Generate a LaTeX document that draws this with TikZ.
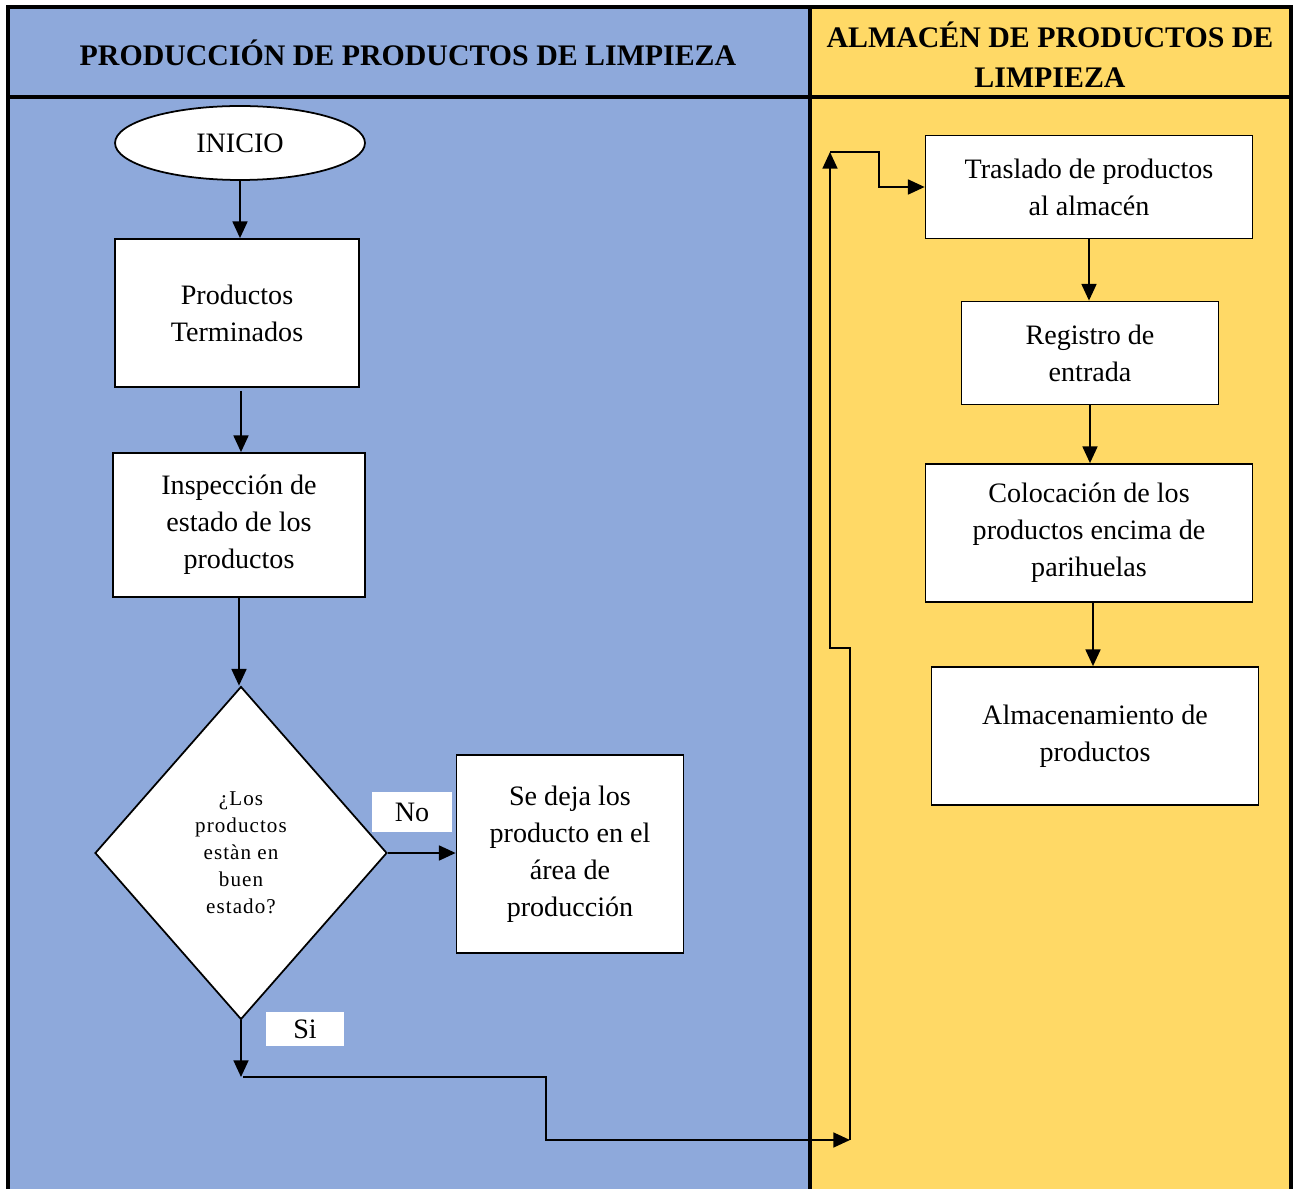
\documentclass[tikz,border=0pt]{standalone}
\usepackage{fontspec}
\setmainfont{Liberation Serif}
\usepackage{xcolor}
\definecolor{laneblue}{RGB}{142,169,219}
\definecolor{laneyellow}{RGB}{255,217,102}
\usetikzlibrary{arrows.meta, shapes.geometric}

\begin{document}
\begin{tikzpicture}[x=0.02cm, y=-0.02cm,
    >={Triangle[length=9.5pt,width=8.5pt]},
    proc/.style={draw, fill=white, line width=1pt, align=center, inner sep=2pt,
        font=\fontsize{16}{21}\selectfont},
    flow/.style={->, line width=1.1pt},
    tag/.style={fill=white, inner sep=0pt, font=\fontsize{16}{20}\selectfont},
    lane/.style={line width=2.8pt},
    header/.style={font=\bfseries\fontsize{17}{22.7}\selectfont, align=center}]

\useasboundingbox (0,0) rectangle (1299,1189);

% Swimlanes
\fill[laneblue] (8,7) rectangle (810,1200);
\fill[laneyellow] (810,7) rectangle (1291,1200);
\draw[lane] (8,1200) -- (8,7) -- (1291,7) -- (1291,1200);
\draw[lane] (8,97) -- (1291,97);
\draw[lane] (810,7) -- (810,1200);

% Lane headers
\node[header] (hprod) at (408,53) {PRODUCCIÓN DE PRODUCTOS DE LIMPIEZA};
\node[header] (halm) at (1050,55) {ALMACÉN DE PRODUCTOS DE\\LIMPIEZA};

% Production lane
\node[draw, ellipse, fill=white, line width=1pt, inner sep=0pt,
    minimum width=5cm, minimum height=1.48cm,
    font=\fontsize{16}{20}\selectfont] (inicio) at (240,143) {INICIO};
\node[proc, minimum width=4.88cm, minimum height=2.96cm] (prod) at (237,313)
    {Productos\\Terminados};
\node[proc, minimum width=5.04cm, minimum height=2.88cm] (insp) at (239,525)
    {Inspección de\\estado de los\\productos};
\node[draw, diamond, fill=white, line width=1pt, inner sep=0pt,
    minimum width=5.84cm, minimum height=6.66cm, align=center,
    font=\fontsize{12}{15.3}\selectfont\addfontfeatures{LetterSpace=5}] (dec) at (241,853)
    {¿Los\\productos\\estàn en\\buen\\estado?};
\node[proc, minimum width=4.54cm, minimum height=3.96cm] (deja) at (570,854)
    {Se deja los\\producto en el\\área de\\producción};
\node[tag, minimum width=1.6cm, minimum height=0.8cm] (no) at (412,812) {No};
\node[tag, minimum width=1.58cm, minimum height=0.68cm] (si) at (305,1029) {Si};

% Warehouse lane
\node[proc, minimum width=6.54cm, minimum height=2.06cm] (tras) at (1089,187)
    {Traslado de productos\\al almacén};
\node[proc, minimum width=5.14cm, minimum height=2.06cm] (reg) at (1090,353)
    {Registro de\\entrada};
\node[proc, minimum width=6.54cm, minimum height=2.76cm] (col) at (1089,533)
    {Colocación de los\\productos encima de\\parihuelas};
\node[proc, minimum width=6.54cm, minimum height=2.76cm] (alm) at (1095,736)
    {Almacenamiento de\\productos};

% Connector ends and junctions
\coordinate (p1) at (241,391);
\coordinate (c1) at (1093,602);
\coordinate (jn1) at (243,1077);
\coordinate (jn2) at (850,1140);
\coordinate (jn3) at (830,152);

% Connectors
\draw[flow] (inicio.south) -- (inicio.south |- prod.north);
\draw[flow] (p1) -- (p1 |- insp.north);
\draw[flow] (insp.south) -- (insp.south |- dec.north);
\draw[flow] (dec.east) -- (deja.west |- dec.east);
\draw[flow] (dec.south) -- (dec.south |- jn1);
\draw[flow] (jn1) -- (546,1077) -- (546,1140) -- (jn2);
\draw[flow] (jn2) -- (850,648) -- (830,648) -- (jn3);
\draw[flow] (jn3) -- (879,152) -- (879,187) -- (tras.west);
\draw[flow] (tras.south) -- (tras.south |- reg.north);
\draw[flow] (reg.south) -- (reg.south |- col.north);
\draw[flow] (c1) -- (c1 |- alm.north);

\end{tikzpicture}
\end{document}
